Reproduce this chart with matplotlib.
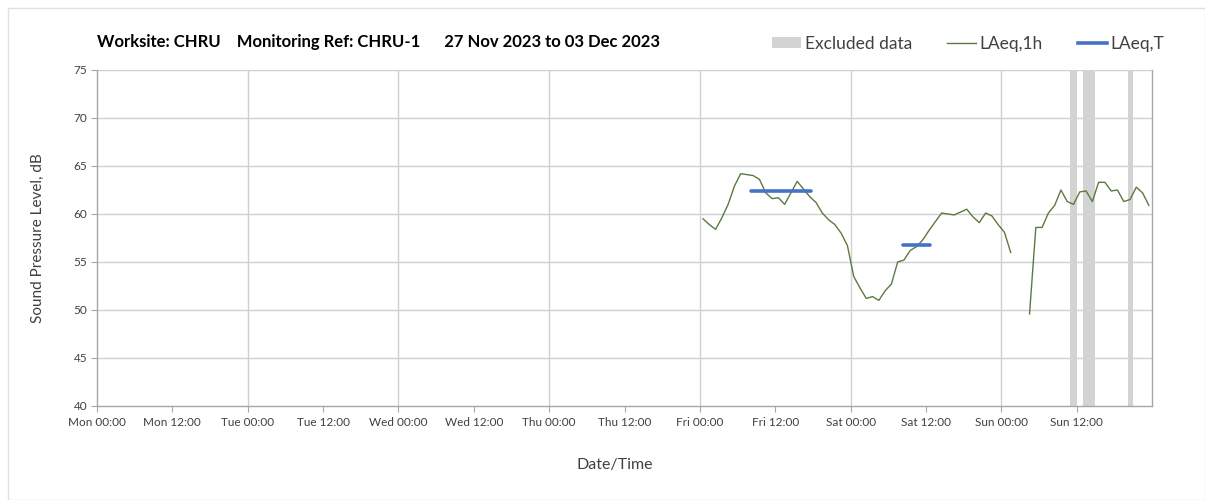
import matplotlib
matplotlib.use("Agg")
import matplotlib.pyplot as plt
import numpy as np
from matplotlib.lines import Line2D
from matplotlib.patches import Patch, Rectangle

plt.rcParams['font.family'] = ['Lato', 'DejaVu Sans']

# Hourly LAeq,1h values, starting Fri 00:30 (hours from Mon 00:00)
start_hour = 96.5
laeq_1h = [59.5, 58.9, 58.4, 59.6, 61.0, 62.9, 64.2, 64.1, 64.0, 63.6,
           62.2, 61.6, 61.7, 61.0, 62.2, 63.4, 62.6, 61.8, 61.2, 60.1,
           59.4, 58.9, 58.0, 56.7, 53.5, 52.3, 51.2, 51.4, 51.0, 52.0,
           52.7, 55.0, 55.2, 56.2, 56.6, 57.3, 58.3, 59.2, 60.1, 60.0,
           59.9, 60.2, 60.5, 59.7, 59.1, 60.1, 59.8, 58.9, 58.1, 56.0,
           np.nan, np.nan, 49.6, 58.6, 58.6, 60.1, 60.9, 62.5, 61.3, 61.0,
           62.3, 62.4, 61.3, 63.3, 63.3, 62.4, 62.5, 61.3, 61.5, 62.8,
           62.2, 60.9]

# LAeq,T periods (start hour, end hour, level)
laeq_t_start = [104.2, 128.4]
laeq_t_end = [113.7, 132.6]
laeq_t_level = [62.4, 56.8]

# Excluded data periods (start hour, end hour)
excl_start = [155.0, 157.0, 164.1]
excl_end = [156.0, 159.0, 165.0]

tick_labels = ["Mon 00:00", "Mon 12:00", "Tue 00:00", "Tue 12:00", "Wed 00:00",
               "Wed 12:00", "Thu 00:00", "Thu 12:00", "Fri 00:00", "Fri 12:00",
               "Sat 00:00", "Sat 12:00", "Sun 00:00", "Sun 12:00"]

W, H = 1205, 500
fig = plt.figure(figsize=(W / 100, H / 100), dpi=100)
ax = fig.add_axes([97 / W, 1 - 406 / H, (1152 - 97) / W, (406 - 70) / H])

hours = start_hour + np.arange(len(laeq_1h))
grid_c = '#d0d0d0'
axis_c = '#a6a6a6'

for s, e in zip(excl_start, excl_end):
    ax.axvspan(s, e, color='#d3d3d3', lw=0, zorder=1)

ax.plot(hours, laeq_1h, color='#5a7a42', lw=1.0, zorder=3)
for s, e, v in zip(laeq_t_start, laeq_t_end, laeq_t_level):
    ax.plot([s, e], [v, v], color='#4472c4', lw=2.6, solid_capstyle='round', zorder=4)

ax.set_xlim(0, 168)
ax.set_ylim(40, 75)
ax.set_yticks(np.arange(40, 76, 5))
ax.set_xticks(np.arange(0, 168, 12))
ax.set_xticklabels(tick_labels)
for d in range(24, 168, 24):
    ax.axvline(d, color=grid_c, lw=1, zorder=0)
for yv in range(45, 76, 5):
    ax.axhline(yv, color=grid_c, lw=1, zorder=0)

for side in ['left', 'bottom', 'right']:
    ax.spines[side].set_color(axis_c)
    ax.spines[side].set_linewidth(1)
ax.spines['top'].set_visible(False)
ax.tick_params(axis='x', direction='out', length=4, color=axis_c, labelsize=8.5,
               labelcolor='#404040', pad=4)
ax.tick_params(axis='y', direction='out', length=4, color=axis_c, labelsize=8.5,
               labelcolor='#404040', pad=3)

fig.text(38 / W, 1 - 238 / H, "Sound Pressure Level, dB", rotation=90, ha='center',
         va='center', fontsize=11, color='#404040')
fig.text(615 / W, 1 - 465 / H, "Date/Time", ha='center', va='center', fontsize=11.5,
         color='#404040')

fig.text(97 / W, 1 - 42 / H,
         "Worksite: CHRU    Monitoring Ref: CHRU-1      27 Nov 2023 to 03 Dec 2023",
         ha='left', va='center', fontsize=12, fontweight='bold', color='#000000')

handles = [Patch(facecolor='#d3d3d3', edgecolor='none'),
           Line2D([0], [0], color='#5a7a42', lw=1.0),
           Line2D([0], [0], color='#4472c4', lw=2.6)]
leg = fig.legend(handles, ["Excluded data", "LAeq,1h", "LAeq,T"], ncol=3, frameon=False,
                 loc='center right', bbox_to_anchor=(1180 / W, 1 - 44 / H),
                 fontsize=12.5, handlelength=1.7, handletextpad=0.2, columnspacing=2.0,
                 handleheight=0.6)
for t in leg.get_texts():
    t.set_color('#404040')

fig.patches.append(Rectangle((8 / W, 0), 1 - 8 / W, 1 - 8 / H, transform=fig.transFigure,
                             fill=False, edgecolor='#e0e0e0', lw=1))

fig.savefig("out.png", dpi=100)
